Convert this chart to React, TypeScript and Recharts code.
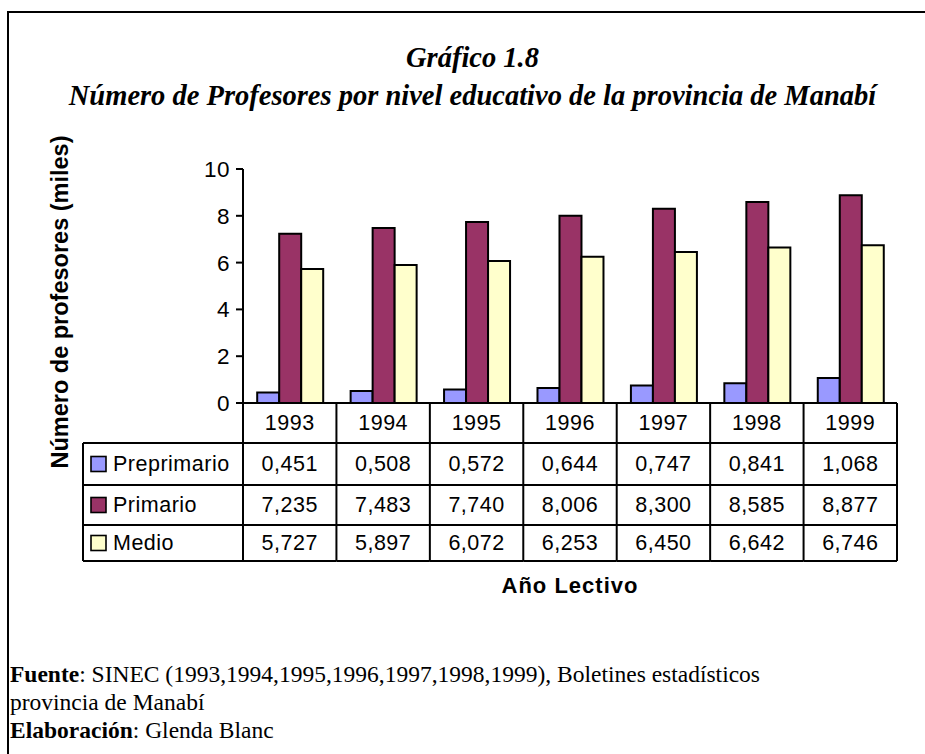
import React from 'react';
import { BarChart, Bar, XAxis, YAxis } from 'recharts';

const years = ['1993', '1994', '1995', '1996', '1997', '1998', '1999'];
const preprimario = [0.451, 0.508, 0.572, 0.644, 0.747, 0.841, 1.068];
const primario = [7.235, 7.483, 7.74, 8.006, 8.3, 8.585, 8.877];
const medio = [5.727, 5.897, 6.072, 6.253, 6.45, 6.642, 6.746];
const yTicks = [0, 2, 4, 6, 8, 10];

const series = [
  { key: 'preprimario', name: 'Preprimario', values: preprimario, color: '#9999FF' },
  { key: 'primario', name: 'Primario', values: primario, color: '#993366' },
  { key: 'medio', name: 'Medio', values: medio, color: '#FFFFCC' },
];

const data = years.map((year, i) => ({
  year,
  preprimario: preprimario[i],
  primario: primario[i],
  medio: medio[i],
}));

// layout (px)
const W = 925;
const H = 754;
const PLOT_LEFT = 243;
const PLOT_TOP = 169;
const PLOT_RIGHT = 897;
const PLOT_BOTTOM = 403;
const TABLE_LEFT = 83;
const ROW_LINES = [443, 485, 525, 561];
const YEAR_Y = 423;
const SANS = '"Liberation Sans", Arial, sans-serif';
const SERIF = '"Liberation Serif", "Times New Roman", serif';

const fmt = (v: number) => v.toFixed(3).replace('.', ',');

// the data table under the plot is drawn from the category axis ticks
const TableTick = (props: any) => {
  const { x, payload, index } = props;
  const half = payload.offset || (PLOT_RIGHT - PLOT_LEFT) / years.length / 2;
  const left = x - half;
  const right = x + half;
  const last = index === years.length - 1;
  const line = { stroke: '#000', strokeWidth: 2 };

  return (
    <g fontFamily={SANS} fontSize={21.5} letterSpacing={0.5} fill="#000">
      {index === 0 && (
        <g>
          <line x1={TABLE_LEFT} x2={TABLE_LEFT} y1={ROW_LINES[0]} y2={ROW_LINES[3]} {...line} />
          {ROW_LINES.map((y) => (
            <line key={y} x1={TABLE_LEFT} x2={left} y1={y} y2={y} {...line} />
          ))}
          {series.map((s, r) => {
            const cy = (ROW_LINES[r] + ROW_LINES[r + 1]) / 2;
            return (
              <g key={s.key}>
                <rect x={91} y={cy - 7.5} width={15} height={15} fill={s.color} stroke="#000" strokeWidth={1.6} />
                <text x={113} y={cy} dominantBaseline="central" fill="#000">
                  {s.name}
                </text>
              </g>
            );
          })}
        </g>
      )}
      <line x1={left} x2={left} y1={PLOT_BOTTOM} y2={ROW_LINES[3]} {...line} />
      {last && <line x1={right} x2={right} y1={PLOT_BOTTOM} y2={ROW_LINES[3]} {...line} />}
      {ROW_LINES.map((y) => (
        <line key={y} x1={left} x2={right} y1={y} y2={y} {...line} />
      ))}
      <text x={x} y={YEAR_Y} textAnchor="middle" dominantBaseline="central" fill="#000">
        {payload.value}
      </text>
      {series.map((s, r) => (
        <text
          key={s.key}
          x={x}
          y={(ROW_LINES[r] + ROW_LINES[r + 1]) / 2}
          textAnchor="middle"
          dominantBaseline="central"
          fill="#000"
        >
          {fmt(s.values[index])}
        </text>
      ))}
    </g>
  );
};

export default function App() {
  return (
    <div style={{ position: 'absolute', left: 0, top: 0, width: W, height: H, background: '#fff', overflow: 'hidden' }}>
      {/* frame */}
      <div
        style={{
          position: 'absolute',
          left: 7,
          top: 11,
          width: W,
          height: H,
          borderTop: '2px solid #000',
          borderLeft: '2px solid #000',
        }}
      />
      <div
        style={{
          position: 'absolute',
          left: 12,
          width: W - 4,
          top: 39,
          textAlign: 'center',
          fontFamily: SERIF,
          fontWeight: 'bold',
          fontStyle: 'italic',
          fontSize: 28.5,
          lineHeight: '38px',
        }}
      >
        <div>Gráfico 1.8</div>
        <div>Número de Profesores por nivel educativo de la provincia de Manabí</div>
      </div>
      <div
        style={{
          position: 'absolute',
          left: 60 - 200,
          top: 302 - 13,
          width: 400,
          height: 26,
          lineHeight: '26px',
          textAlign: 'center',
          transform: 'rotate(-90deg)',
          fontFamily: SANS,
          fontWeight: 'bold',
          fontSize: 23.5,
        }}
      >
        Número de profesores (miles)
      </div>

      <div style={{ position: 'absolute', left: 0, top: 0 }}>
        <BarChart
          width={W}
          height={H}
          data={data}
          margin={{ top: PLOT_TOP, right: W - PLOT_RIGHT, left: PLOT_LEFT - 60, bottom: H - PLOT_BOTTOM - 200 }}
          barCategoryGap="15.2%"
          barGap={0}
        >
          <XAxis
            dataKey="year"
            height={200}
            interval={0}
            tickLine={false}
            axisLine={{ stroke: '#000', strokeWidth: 2 }}
            tick={<TableTick />}
            label={{
              value: 'Año Lectivo',
              position: 'insideBottom',
              offset: 10,
              style: { fontFamily: SANS, fontWeight: 'bold', fontSize: 22, letterSpacing: 1, fill: '#000' },
            }}
          />
          <XAxis
            xAxisId="top"
            dataKey="year"
            orientation="top"
            height={0}
            tick={false}
            tickLine={false}
            axisLine={{ stroke: '#808080', strokeWidth: 2 }}
          />
          <YAxis
            domain={[0, 10]}
            ticks={yTicks}
            width={60}
            interval={0}
            tickSize={7}
            tickMargin={6}
            axisLine={{ stroke: '#000', strokeWidth: 2 }}
            tickLine={{ stroke: '#000', strokeWidth: 2 }}
            tick={{ fontFamily: SANS, fontSize: 22.5, letterSpacing: 0.5, fill: '#000' }}
          />
          <YAxis
            yAxisId="right"
            orientation="right"
            domain={[0, 10]}
            width={0}
            tick={false}
            tickLine={false}
            axisLine={{ stroke: '#808080', strokeWidth: 2 }}
          />
          {series.map((s) => (
            <Bar
              key={s.key}
              dataKey={s.key}
              name={s.name}
              fill={s.color}
              stroke="#000"
              strokeWidth={2}
              isAnimationActive={false}
            />
          ))}
        </BarChart>
      </div>

      <div
        style={{
          position: 'absolute',
          left: 10,
          top: 660,
          fontFamily: SERIF,
          fontSize: 23.5,
          lineHeight: '28px',
          color: '#000',
        }}
      >
        <div>
          <b>Fuente</b>: SINEC (1993,1994,1995,1996,1997,1998,1999), Boletines estadísticos
        </div>
        <div>provincia de Manabí</div>
        <div>
          <b>Elaboración</b>: Glenda Blanc
        </div>
      </div>
    </div>
  );
}
